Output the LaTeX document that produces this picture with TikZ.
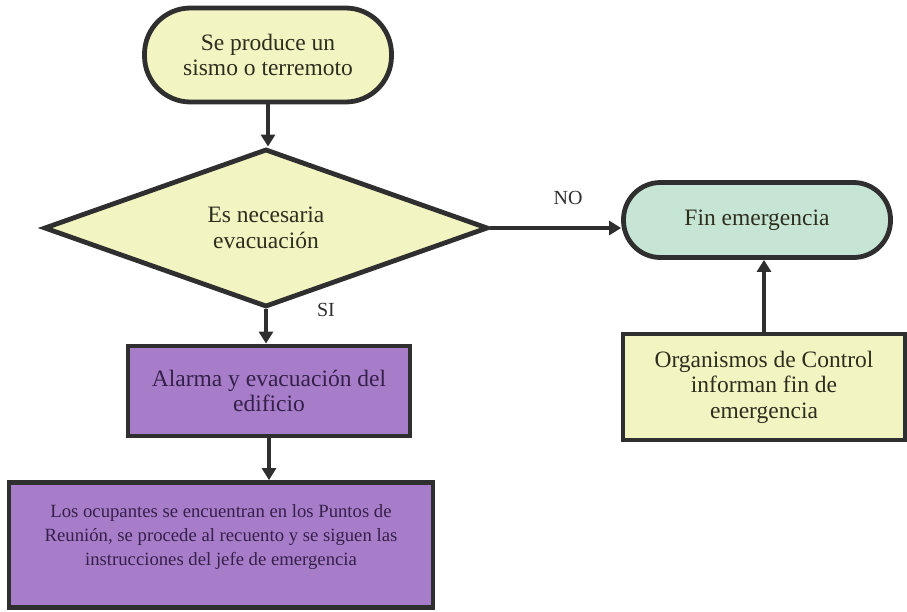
\documentclass[tikz,border=0pt]{standalone}
\usepackage{fontspec}
\setmainfont{Liberation Serif}
\newfontfamily\tnr{Liberation Serif}
\usetikzlibrary{shapes.geometric,arrows.meta}
\definecolor{yfill}{HTML}{F2F4C2}
\definecolor{tfill}{HTML}{C6E5D4}
\definecolor{pfill}{HTML}{A77DC9}
\definecolor{edge}{HTML}{2F2F2F}
\definecolor{ytext}{HTML}{2E2E1E}
\definecolor{ptext}{HTML}{35204A}
\tikzset{
  base/.style={draw=edge, line width=4.8pt, align=center, inner sep=0pt,
    font=\tnr\fontsize{23.5}{25.5}\selectfont},
  term/.style={base, rectangle, fill=yfill, text=ytext},
  proc/.style={base, rectangle, fill=pfill, text=ptext},
  decis/.style={base, diamond, fill=yfill, text=ytext},
  conn/.style={draw=edge, line width=4pt, -{Triangle[length=12pt,width=14pt]}},
  lab/.style={font=\tnr\fontsize{20}{22}\selectfont, text=edge}
}
\begin{document}
\begin{tikzpicture}[x=1pt,y=-1pt]
\useasboundingbox (0,0) rectangle (907,611);
\node[term, minimum width=247pt, minimum height=94pt, rounded corners=46pt] (start) at (268,55) {Se produce un\\sismo o terremoto};
\node[decis, minimum width=444pt, minimum height=150pt] (dec) at (266,228) {Es necesaria\\evacuación};
\node[proc, minimum width=282pt, minimum height=90pt] (alarm) at (269,391) {Alarma y evacuación del\\edificio};
\node[proc, minimum width=424pt, minimum height=125pt, font=\tnr\fontsize{18.7}{24}\selectfont, text depth=19pt] (meet) at (221,545) {Los ocupantes se encuentran en los Puntos de\\Reunión, se procede al recuento y se siguen las\\instrucciones del jefe de emergencia};
\node[term, fill=tfill, minimum width=267pt, minimum height=75pt, rounded corners=37pt] (fin) at (757,220) {Fin emergencia};
\node[term, minimum width=282pt, minimum height=106pt] (org) at (764,387) {Organismos de Control\\informan fin de\\emergencia};
\draw[conn] (start.south) -- (start.south |- dec.north);
\draw[conn] (dec.south) -- (dec.south |- alarm.north);
\draw[conn] (alarm.south) -- (alarm.south |- meet.north);
\draw[conn] (dec.east) -- (fin.west |- dec.east);
\draw[conn] (org.north) -- (org.north |- fin.south);
\node[lab] (no) at (568,198) {NO};
\node[lab] (si) at (326,310) {SI};
\end{tikzpicture}
\end{document}
